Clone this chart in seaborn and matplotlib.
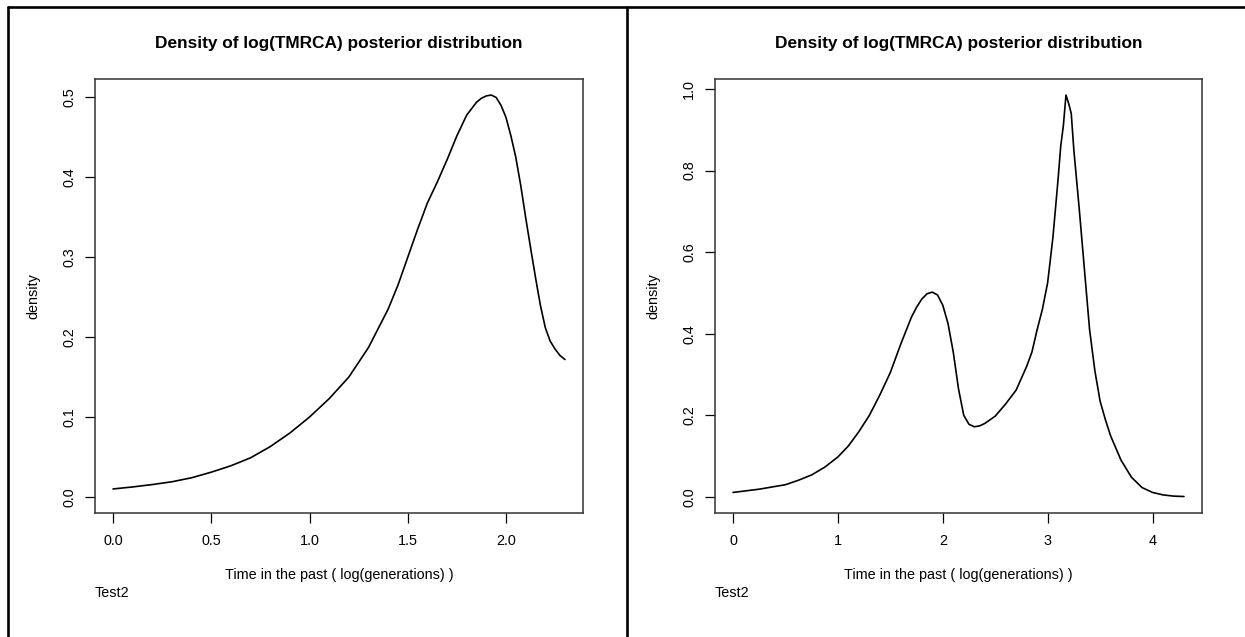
import matplotlib
matplotlib.use("Agg")
import matplotlib.pyplot as plt
import seaborn as sns
from matplotlib.lines import Line2D

# valores
esq_x = [0.0, 0.1, 0.2, 0.3, 0.4, 0.5, 0.6, 0.7, 0.8, 0.9, 1.0, 1.1, 1.2, 1.3, 1.4,
         1.45, 1.5, 1.55, 1.6, 1.65, 1.7, 1.75, 1.8, 1.85, 1.875, 1.9, 1.925, 1.95,
         1.975, 2.0, 2.025, 2.05, 2.075, 2.1, 2.125, 2.15, 2.175, 2.2, 2.225, 2.25,
         2.275, 2.3]
esq_y = [0.010, 0.0125, 0.0155, 0.019, 0.024, 0.031, 0.039, 0.049, 0.063, 0.080, 0.100,
         0.123, 0.150, 0.187, 0.235, 0.265, 0.300, 0.335, 0.368, 0.394, 0.422, 0.452,
         0.478, 0.494, 0.499, 0.502, 0.503, 0.500, 0.490, 0.475, 0.452, 0.425, 0.390,
         0.350, 0.312, 0.275, 0.240, 0.212, 0.195, 0.185, 0.177, 0.172]

dir_x = [0.0, 0.25, 0.5, 0.625, 0.75, 0.875, 1.0, 1.1, 1.2, 1.3, 1.4, 1.5, 1.6, 1.7,
         1.75, 1.8, 1.85, 1.9, 1.95, 2.0, 2.05, 2.1, 2.15, 2.2, 2.25, 2.3, 2.35, 2.4,
         2.5, 2.6, 2.7, 2.8, 2.85, 2.9, 2.95, 3.0, 3.05, 3.1, 3.125, 3.15, 3.175, 3.2,
         3.225, 3.25, 3.3, 3.35, 3.4, 3.45, 3.5, 3.55, 3.6, 3.7, 3.8, 3.9, 4.0, 4.1,
         4.2, 4.3]
dir_y = [0.011, 0.019, 0.030, 0.041, 0.054, 0.073, 0.098, 0.125, 0.160, 0.200, 0.250,
         0.305, 0.375, 0.440, 0.465, 0.485, 0.498, 0.502, 0.495, 0.470, 0.425, 0.355,
         0.265, 0.200, 0.178, 0.172, 0.174, 0.180, 0.198, 0.228, 0.262, 0.320, 0.355,
         0.410, 0.460, 0.525, 0.635, 0.780, 0.860, 0.910, 0.985, 0.965, 0.940, 0.850,
         0.710, 0.560, 0.410, 0.310, 0.235, 0.190, 0.150, 0.090, 0.048, 0.023, 0.011,
         0.005, 0.002, 0.001]

esq_xticks = [0.0, 0.5, 1.0, 1.5, 2.0]
esq_xlabels = ["0.0", "0.5", "1.0", "1.5", "2.0"]
esq_yticks = [0.0, 0.1, 0.2, 0.3, 0.4, 0.5]
esq_ylabels = ["0.0", "0.1", "0.2", "0.3", "0.4", "0.5"]
dir_xticks = [0, 1, 2, 3, 4]
dir_xlabels = ["0", "1", "2", "3", "4"]
dir_yticks = [0.0, 0.2, 0.4, 0.6, 0.8, 1.0]
dir_ylabels = ["0.0", "0.2", "0.4", "0.6", "0.8", "1.0"]

titulo = "Density of log(TMRCA) posterior distribution"
rotulo_x = "Time in the past ( log(generations) )"
rotulo_y = "density"
legenda = "Test2"

sns.set_theme(style="ticks")
plt.rcParams["font.family"] = ["Liberation Sans", "DejaVu Sans"]
plt.rcParams["text.color"] = "black"
plt.rcParams["axes.labelcolor"] = "black"

W, H = 1245, 637
fig = plt.figure(figsize=(W / 100, H / 100), dpi=100)
fig.patch.set_facecolor("white")

fs = 10.4


def painel(rect, xs, ys, xticks, xlabels, yticks, ylabels):
    ax = fig.add_axes(rect)
    ax.set_facecolor("white")
    sns.lineplot(x=xs, y=ys, ax=ax, color="black", linewidth=1.2,
                 estimator=None, sort=False)
    # limites estilo R (4% de folga)
    dx = (max(xs) - min(xs)) * 0.04
    dy = max(ys) * 0.04
    ax.set_xlim(min(xs) - dx, max(xs) + dx)
    ax.set_ylim(-dy, max(ys) + dy)
    for s in ax.spines.values():
        s.set_color("#333333")
        s.set_linewidth(1.1)
        s.set_visible(True)
    ax.set_xticks(xticks)
    ax.set_xticklabels(xlabels, va="center")
    ax.set_yticks(yticks)
    ax.set_yticklabels(ylabels, rotation=90, va="center", ha="center")
    ax.tick_params(axis="both", direction="out", length=7, width=0.9,
                   color="black", labelsize=fs, labelcolor="black")
    ax.tick_params(axis="x", pad=13.0)
    ax.tick_params(axis="y", pad=11.7)
    ax.set_title(titulo, fontsize=12.4, fontweight="bold", y=1.082, pad=0,
                 va="center", color="black")
    ax.set_xlabel(rotulo_x, fontsize=fs, va="center", color="black")
    ax.xaxis.set_label_coords(0.5, -0.143)
    ax.set_ylabel(rotulo_y, fontsize=fs, va="center", color="black")
    ax.yaxis.set_label_coords(-0.126, 0.5)
    ax.text(0.0, -0.184, legenda, transform=ax.transAxes, ha="left", va="center",
            fontsize=fs, color="black")
    ax.grid(False)
    return ax


ax_bottom = (H - 513) / H
ax_h = 434 / H
painel([95 / W, ax_bottom, 488 / W, ax_h], esq_x, esq_y,
       esq_xticks, esq_xlabels, esq_yticks, esq_ylabels)
painel([715 / W, ax_bottom, 487 / W, ax_h], dir_x, dir_y,
       dir_xticks, dir_xlabels, dir_yticks, dir_ylabels)

# moldura da tabela em volta das figuras
topo = (H - 7) / H
fig.add_artist(Line2D([8 / W, 1.0], [topo, topo], color="black", linewidth=1.9))
fig.add_artist(Line2D([8 / W, 8 / W], [0, topo], color="black", linewidth=1.9))
fig.add_artist(Line2D([627 / W, 627 / W], [0, topo], color="black", linewidth=1.9))

fig.savefig("out.png", dpi=100, facecolor="white")
